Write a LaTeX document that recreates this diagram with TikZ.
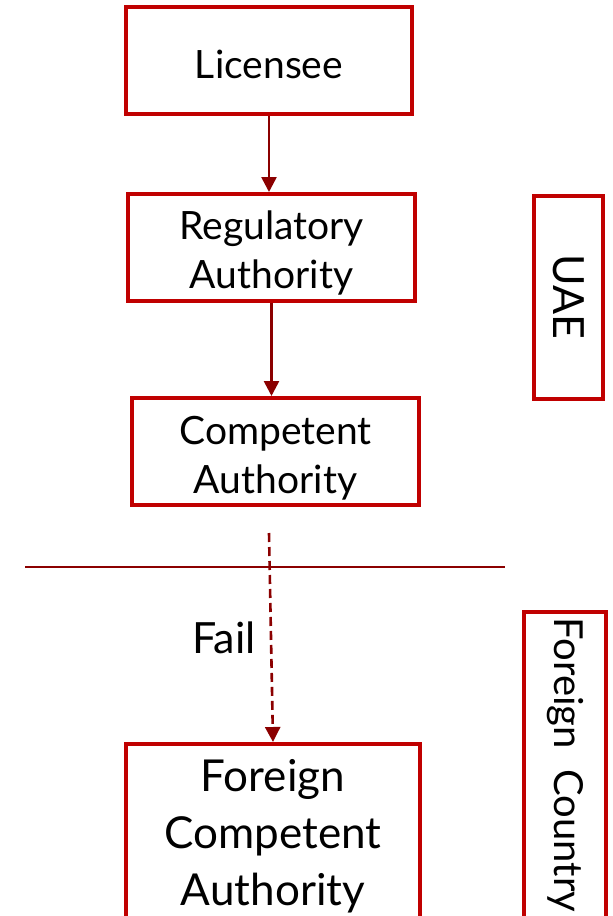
\documentclass[tikz,border=0pt]{standalone}
\usepackage{fontspec}
\setmainfont{Lato}
\usetikzlibrary{arrows.meta}
\definecolor{boxred}{HTML}{C00000}
\definecolor{arrowred}{HTML}{8B0000}
\begin{document}
\begin{tikzpicture}[x=1pt,y=-1pt,
  box/.style={draw=boxred,line width=4pt,fill=white,inner sep=0pt},
  boxtext/.style={align=center,inner sep=0pt,font=\fontsize{39}{49}\selectfont},
  bigtext/.style={boxtext,font=\fontsize{44}{57}\selectfont},
  sidebox/.style={box,rotate=-90},
  flow/.style={draw=arrowred,line width=2.6pt,-{Triangle[width=15pt,length=15pt]}},
  rule/.style={draw=arrowred,line width=2.4pt},
]
\useasboundingbox (0,0) rectangle (613,916);
\clip (0,0) rectangle (613,916);

% main chain of authorities
\node[box,minimum width=286pt,minimum height=107pt,
  label={[boxtext,yshift=-4pt]center:Licensee}] (lic) at (269,60.5) {};
\node[box,minimum width=287pt,minimum height=107pt,
  label={[boxtext,yshift=-5.5pt]center:{Regulatory\\Authority}}] (reg) at (271.5,247.5) {};
\node[box,minimum width=287pt,minimum height=107pt,
  label={[boxtext,yshift=-7pt]center:{Competent\\Authority}}] (comp) at (275.5,451.5) {};
\node[box,minimum width=294pt,minimum height=178pt,
  label={[bigtext,yshift=-3pt]center:{Foreign\\Competent\\Authority}}] (fca) at (273,833) {};

% jurisdiction labels
\node[sidebox,font=\fontsize{43}{48}\selectfont,minimum width=203pt,minimum height=69pt] (uae) at (568.5,297) {UAE};
\node[sidebox,font=\fontsize{40}{46}\selectfont,minimum width=306pt,minimum height=82pt] (fc) at (565,765) {Foreign\ \ Country};

% border between the two jurisdictions
\coordinate (sepL) at (25,567);
\coordinate (sepR) at (505,567);
\draw[rule] (sepL) -- (sepR);

% arrows
\draw[flow] (lic.south) -- (lic.south |- reg.north);
\draw[flow] (reg.south) -- (reg.south |- comp.north);
\coordinate (dstart) at (269,533);
\draw[flow,dash pattern=on 9pt off 5pt] (dstart) -- (fca.north);

\node[font=\fontsize{43}{48}\selectfont] (fail) at (224,638) {Fail};
\end{tikzpicture}
\end{document}
